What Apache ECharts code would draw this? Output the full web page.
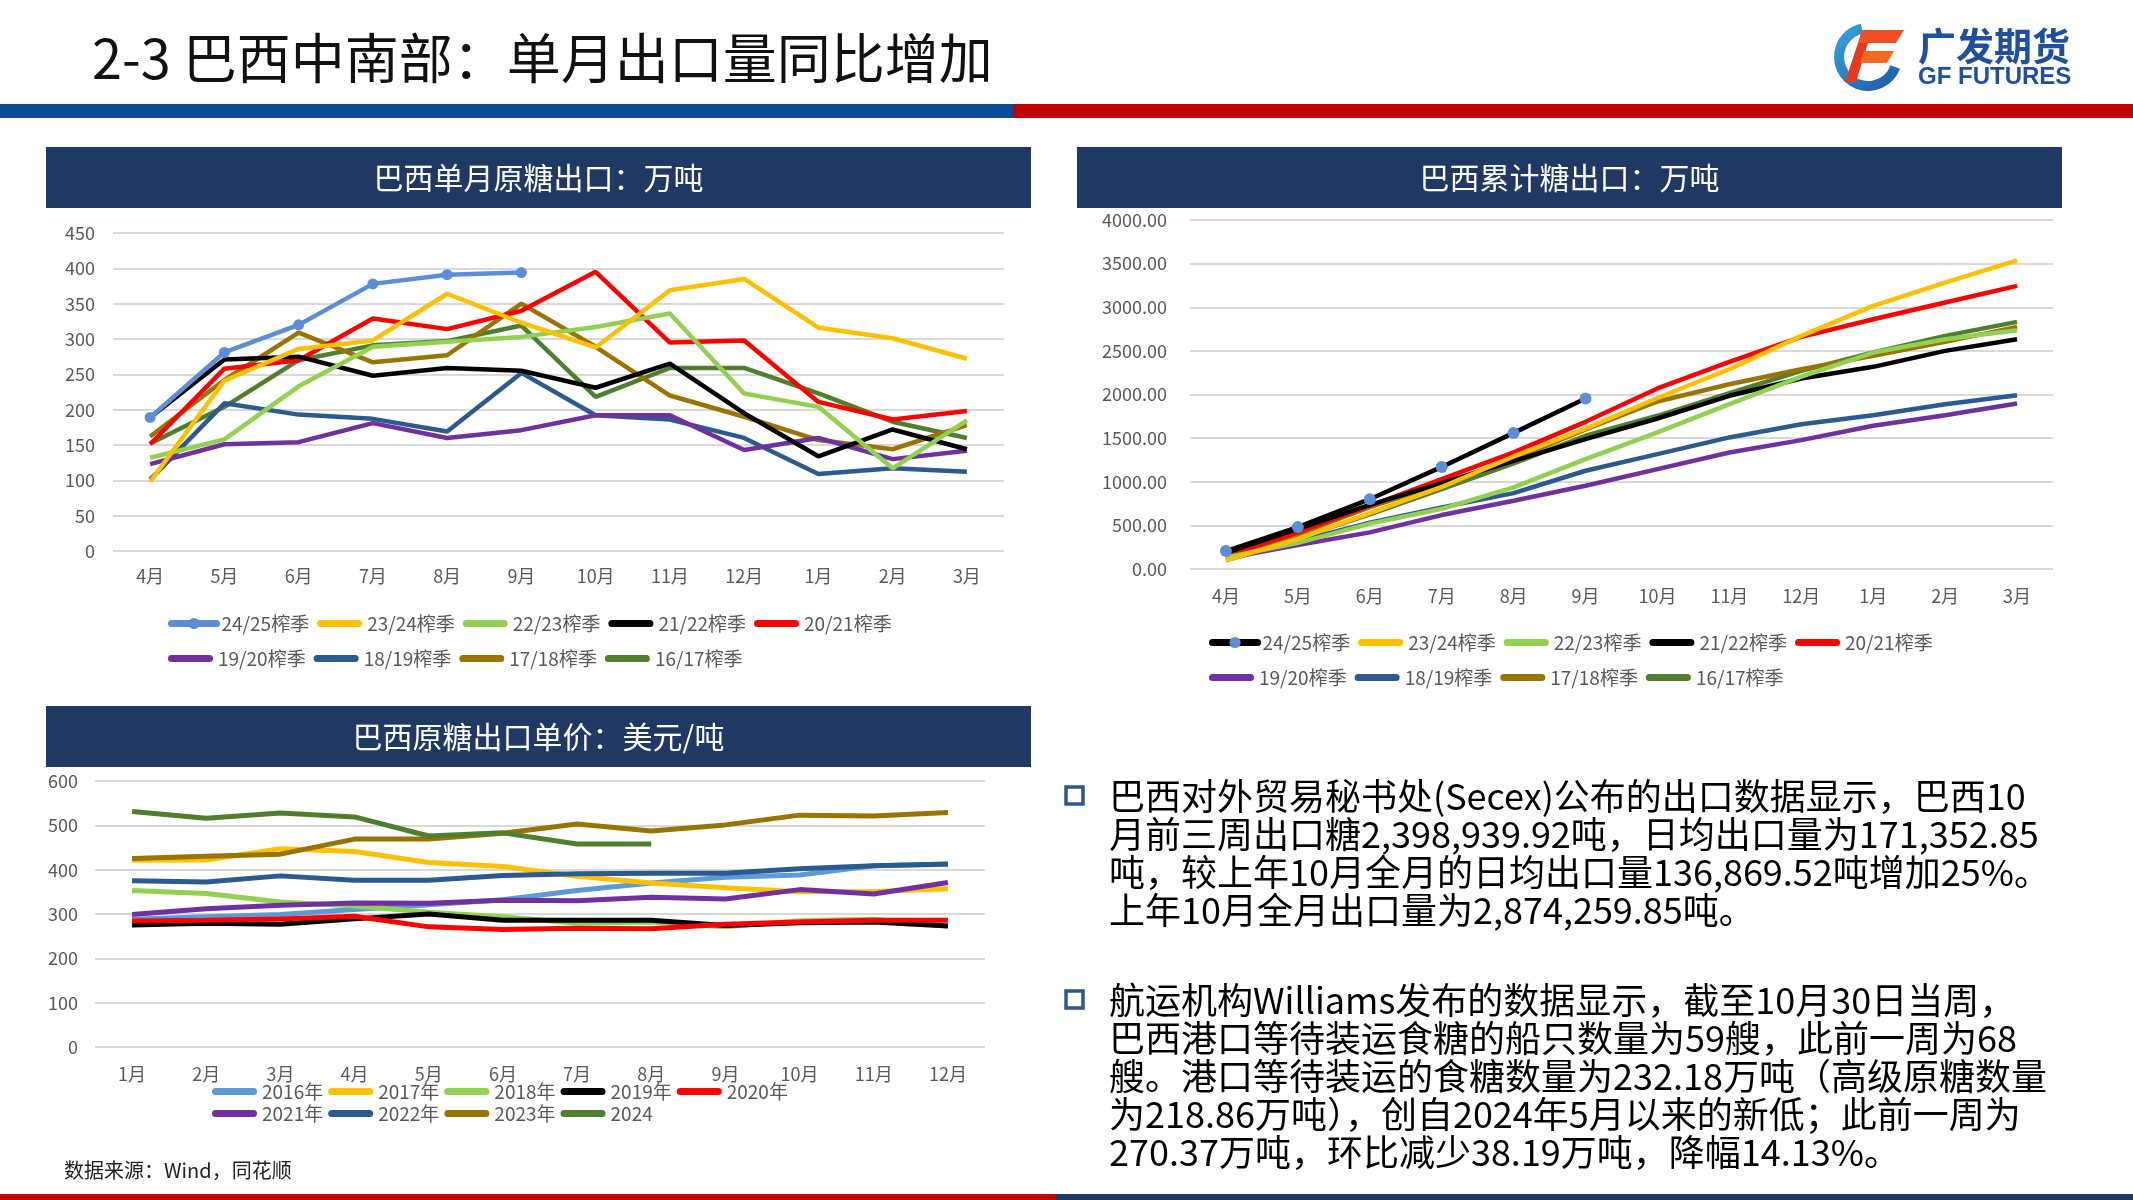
<!DOCTYPE html>
<html><head><meta charset="utf-8">
<script src="https://cdn.jsdelivr.net/npm/echarts@6/dist/echarts.min.js"></script>
<style>html,body{margin:0;padding:0;background:#fff;}#c{width:2133px;height:1200px;}</style>
</head><body><div id="c"></div>
<script>
// ---------- data ----------
const seasonMonths = ['4月','5月','6月','7月','8月','9月','10月','11月','12月','1月','2月','3月'];
const calMonths = ['1月','2月','3月','4月','5月','6月','7月','8月','9月','10月','11月','12月'];
const seasonNames = ['24/25榨季','23/24榨季','22/23榨季','21/22榨季','20/21榨季','19/20榨季','18/19榨季','17/18榨季','16/17榨季'];
const yearNames = ['2016年','2017年','2018年','2019年','2020年','2021年','2022年','2023年','2024'];

// monthly exports (万吨)
const m2425 = [189, 281, 320, 378, 391, 394, null, null, null, null, null, null];
const m2324 = [98, 241, 286, 298, 364, 323, 288, 369, 385, 316, 301, 272];
const m2223 = [132, 158, 233, 289, 296, 303, 317, 336, 223, 204, 117, 185];
const m2122 = [189, 271, 275, 248, 259, 255, 231, 265, 195, 134, 172, 144];
const m2021 = [151, 258, 270, 329, 314, 340, 395, 295, 298, 211, 186, 198];
const m1920 = [123, 151, 154, 181, 160, 171, 192, 192, 143, 160, 130, 142];
const m1819 = [101, 209, 193, 187, 169, 252, 192, 186, 160, 109, 117, 112];
const m1718 = [162, 242, 309, 267, 277, 350, 289, 220, 190, 157, 144, 178];
const m1617 = [152, 204, 270, 291, 297, 319, 218, 259, 259, 223, 183, 160];

// cumulative exports (万吨)
const c2425 = [205, 480, 800, 1170, 1560, 1955, null, null, null, null, null, null];
const c2324 = [98, 345, 640, 940, 1290, 1610, 1960, 2290, 2672, 3015, 3283, 3538];
const c2223 = [132, 300, 520, 690, 935, 1260, 1565, 1889, 2206, 2481, 2634, 2737];
const c2122 = [189, 460, 735, 985, 1240, 1489, 1725, 1985, 2183, 2317, 2500, 2634];
const c2021 = [151, 420, 725, 1030, 1336, 1687, 2069, 2374, 2660, 2863, 3054, 3245];
const c1920 = [123, 275, 420, 618, 782, 954, 1145, 1336, 1477, 1641, 1763, 1897];
const c1819 = [101, 320, 530, 706, 870, 1126, 1317, 1508, 1660, 1763, 1889, 1992];
const c1718 = [162, 400, 710, 975, 1255, 1600, 1920, 2118, 2290, 2443, 2603, 2775];
const c1617 = [152, 355, 625, 915, 1210, 1527, 1756, 2015, 2271, 2481, 2672, 2832];

// unit price (美元/吨)
const p2016 = [288, 294, 299, 310, 321, 332, 353, 370, 383, 388, 409, 412];
const p2017 = [421, 422, 447, 441, 416, 407, 385, 370, 359, 350, 351, 357];
const p2018 = [353, 346, 327, 318, 304, 294, 279, 282, 271, 285, 288, 273];
const p2019 = [275, 279, 277, 289, 300, 286, 286, 286, 274, 280, 282, 273];
const p2020 = [284, 286, 289, 295, 271, 265, 268, 267, 277, 282, 286, 286];
const p2021 = [299, 312, 320, 325, 324, 331, 330, 338, 334, 355, 345, 371];
const p2022 = [375, 372, 386, 376, 376, 387, 391, 392, 392, 402, 409, 413];
const p2023 = [425, 430, 435, 469, 469, 482, 503, 487, 501, 523, 521, 529];
const p2024 = [531, 516, 528, 519, 476, 483, 458, 458, null, null, null, null];

// ---------- styling ----------
const FONT = '"Noto Sans CJK SC","Noto Sans",sans-serif';
const LBL = '#595959';
const GRIDC = '#D9D9D9';
const seasonColors = ['#5B8ED6','#FFC000','#92D050','#000000','#FF0000','#7030A0','#2A5A8E','#9A7400','#4F7F2D'];
const yearColors = ['#5B9BD5','#FFC000','#92D050','#000000','#FF0000','#7030A0','#2A5A8E','#9A7400','#4F7F2D'];
const monthlySets = [m2425,m2324,m2223,m2122,m2021,m1920,m1819,m1718,m1617];
const cumSets = [c2425,c2324,c2223,c2122,c2021,c1920,c1819,c1718,c1617];
const priceSets = [p2016,p2017,p2018,p2019,p2020,p2021,p2022,p2023,p2024];

const chart = echarts.init(document.getElementById('c'), null, {renderer:'canvas'});

function xAx(grid, data, margin){
  return {type:'category', gridIndex:grid, data:data, boundaryGap:true,
    axisLine:{show:false}, axisTick:{show:false},
    axisLabel:{color:LBL, fontSize:18, fontFamily:FONT, margin:margin}};
}
function yAx(grid, max, interval, fmt, margin){
  return {type:'value', gridIndex:grid, min:0, max:max, interval:interval,
    axisLine:{show:false}, axisTick:{show:false},
    splitLine:{lineStyle:{color:GRIDC, width:2}},
    axisLabel:{color:LBL, fontSize:18, fontFamily:FONT, margin:margin, formatter:fmt}};
}

const series = [];
seasonNames.forEach((n,i)=>{
  const marker = i===0;
  series.push({name:n, type:'line', xAxisIndex:0, yAxisIndex:0, data:monthlySets[i],
    symbol: marker?'circle':'none', symbolSize:11, showSymbol:marker,
    lineStyle:{width:4.5, color:seasonColors[i]}, itemStyle:{color:seasonColors[i]},
    z: 10-i, animation:false});
});
seasonNames.forEach((n,i)=>{
  const marker = i===0;
  series.push({name:n, type:'line', xAxisIndex:1, yAxisIndex:1, data:cumSets[i],
    symbol: marker?'circle':'none', symbolSize:12, showSymbol:marker,
    lineStyle:{width:4.5, color: marker ? '#000000' : seasonColors[i]}, itemStyle:{color:seasonColors[i]},
    z: marker ? 20 : 10-i, animation:false});
});
yearNames.forEach((n,i)=>{
  series.push({name:n, type:'line', xAxisIndex:2, yAxisIndex:2, data:priceSets[i],
    symbol:'none', lineStyle:{width:5, color:yearColors[i]}, itemStyle:{color:yearColors[i]},
    z: 2+i, animation:false});
});

const BAR_ICON = 'path://M3.5,0 L41.5,0 A3.5,3.5 0 0 1 41.5,7 L3.5,7 A3.5,3.5 0 0 1 3.5,0 Z';
function legend(names, left, top, gap, colors, extra){
  return {data: names.map(n => (extra && extra[n]) ? Object.assign({name:n}, extra[n])
                                 : {name:n, icon:BAR_ICON, itemStyle:{color:colors[n]}}),
    left:left, top:top, orient:'horizontal', itemWidth:45, itemHeight:14, itemGap:gap,
    symbolKeepAspect:true, selectedMode:false, lineStyle:{width:7, cap:'round'},
    textStyle:{color:LBL, fontSize:19, fontFamily:FONT, padding:[0,0,0,0]}};
}
const sColMap = {}; seasonNames.forEach((n,i)=>sColMap[n]=seasonColors[i]);
const yColMap = {}; yearNames.forEach((n,i)=>yColMap[n]=yearColors[i]);
const s1 = seasonNames.slice(0,5), s2 = seasonNames.slice(5);
const c1extra = {'24/25榨季': {}};
const c2extra = {'24/25榨季': {lineStyle:{color:'#000000'}, itemStyle:{color:'#5B8ED6'}}};

// ---------- graphics ----------
const g = [];
g.push({type:'rect', shape:{x:0,y:104,width:1013,height:14}, style:{fill:'#0A4A96'}});
g.push({type:'rect', shape:{x:1013,y:104,width:1120,height:14}, style:{fill:'#C00000'}});
g.push({type:'text', x:92, y:58, style:{text:'2-3 巴西中南部：单月出口量同比增加', font:'54px '+FONT, fill:'#111', verticalAlign:'middle'}});
// logo
g.push({type:'sector', shape:{cx:1868, cy:57, r:34, r0:24, startAngle:0.35, endAngle:4.5, clockwise:true},
  style:{fill:new echarts.graphic.LinearGradient(0,0,1,1,[{offset:0,color:'#39A9E0'},{offset:1,color:'#1B56A6'}])}});
g.push({type:'polygon', shape:{points:[[1862,30],[1904,30],[1896,43],[1858,43]]}, style:{fill:'#F04E23'}});
g.push({type:'polygon', shape:{points:[[1858,43],[1868,43],[1856,82],[1845,82]]}, style:{fill:'#E8381E'}});
g.push({type:'polygon', shape:{points:[[1864,51],[1894,51],[1887,63],[1860,63]]}, style:{fill:'#F26A21'}});
g.push({type:'text', x:1918, y:46, style:{text:'广发期货', font:'bold 38px '+FONT, fill:'#1E4FA0', verticalAlign:'middle'}});
g.push({type:'text', x:1918, y:77, style:{text:'GF FUTURES', font:'bold 24px "Liberation Sans",Arial,sans-serif', fill:'#1E4FA0', verticalAlign:'middle'}});
// chart headers
const headers = [
  {x:46, y:147, w:985, h:61, t:'巴西单月原糖出口：万吨'},
  {x:1077, y:147, w:985, h:61, t:'巴西累计糖出口：万吨'},
  {x:46, y:706, w:985, h:61, t:'巴西原糖出口单价：美元/吨'}
];
headers.forEach(h=>{
  g.push({type:'rect', shape:{x:h.x,y:h.y,width:h.w,height:h.h}, style:{fill:'#1F3864'}});
  g.push({type:'text', x:h.x+h.w/2, y:h.y+h.h/2, style:{text:h.t, font:'30px '+FONT, fill:'#fff', align:'center', verticalAlign:'middle'}});
});
// source
g.push({type:'text', x:64, y:1170, style:{text:'数据来源：Wind，同花顺', font:'20px '+FONT, fill:'#222', verticalAlign:'middle'}});
// body text
const para1 = ['巴西对外贸易秘书处(Secex)公布的出口数据显示，巴西10',
  '月前三周出口糖2,398,939.92吨，日均出口量为171,352.85',
  '吨，较上年10月全月的日均出口量136,869.52吨增加25%。',
  '上年10月全月出口量为2,874,259.85吨。'];
const para2 = ['航运机构Williams发布的数据显示，截至10月30日当周，',
  '巴西港口等待装运食糖的船只数量为59艘，此前一周为68',
  '艘。港口等待装运的食糖数量为232.18万吨（高级原糖数量',
  '为218.86万吨），创自2024年5月以来的新低；此前一周为',
  '270.37万吨，环比减少38.19万吨，降幅14.13%。'];
[[para1, 796], [para2, 1000]].forEach(([lines, y0])=>{
  g.push({type:'rect', shape:{x:1066, y:y0-9, width:17, height:17}, style:{fill:'#fff', stroke:'#2F5597', lineWidth:3.5}});
  lines.forEach((ln,k)=>{
    g.push({type:'text', x:1109, y:y0+k*38, style:{text:ln, font:'36px '+FONT, fill:'#000', verticalAlign:'middle'}});
  });
});
// bottom line
g.push({type:'rect', shape:{x:0,y:1194,width:1055,height:6}, style:{fill:'#C00000'}});
g.push({type:'rect', shape:{x:1055,y:1194,width:1078,height:6}, style:{fill:'#1F3864'}});

chart.setOption({
  animation:false,
  textStyle:{fontFamily:FONT},
  grid:[
    {left:113, top:233, width:891, height:318},
    {left:1190, top:220, width:863, height:349},
    {left:95, top:781, width:890, height:266}
  ],
  xAxis:[xAx(0, seasonMonths, 16), xAx(1, seasonMonths, 18), xAx(2, calMonths, 18)],
  yAxis:[yAx(0, 450, 50, null, 18), yAx(1, 4000, 500, v=>v.toFixed(2), 23), yAx(2, 600, 100, null, 17)],
  legend:[
    legend(s1, 163, 609, 8, sColMap, c1extra),
    legend(s2, 163, 644, 8, sColMap),
    legend(s1, 1204, 628, 8, sColMap, c2extra),
    legend(s2, 1204, 663, 8, sColMap),
    legend(yearNames.slice(0,5), 207, 1077, 5, yColMap),
    legend(yearNames.slice(5), 207, 1099, 5, yColMap)
  ],
  series: series,
  graphic: g
});
</script>
</body></html>
